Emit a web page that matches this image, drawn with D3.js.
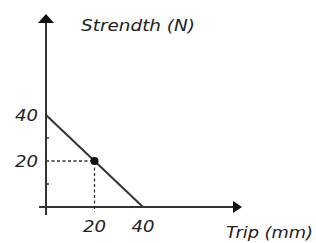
<!DOCTYPE html>
<html>
<head>
<meta charset="utf-8">
<script src="https://cdn.jsdelivr.net/npm/d3@7"></script>
<style>
body { margin: 0; background: #fff; }
text { font-family: "DejaVu Sans", sans-serif; font-style: italic; fill: #222; }
</style>
</head>
<body>
<div id="graphic"></div>
<script>
// line points (trip mm, strength N)
var lineTrip = [0, 40];
var lineStrength = [40, 0];
// highlighted point
var pointTrip = [20];
var pointStrength = [20];
var xTicks = [20, 40];
var yTicks = [20, 40];
var yMinor = [10, 30];

var W = 316, H = 243;
var x = d3.scaleLinear().domain([0, 40]).range([46, 143]);
var y = d3.scaleLinear().domain([0, 40]).range([207, 115]);

var svg = d3.select("#graphic").append("svg")
    .attr("width", W)
    .attr("height", H);

var ink = "#333";

// axes
svg.append("line")
    .attr("x1", x(0)).attr("x2", x(0))
    .attr("y1", y(0) + 8).attr("y2", 20)
    .attr("stroke", ink).attr("stroke-width", 2);
svg.append("line")
    .attr("x1", x(0) - 7).attr("x2", 236)
    .attr("y1", y(0)).attr("y2", y(0))
    .attr("stroke", ink).attr("stroke-width", 2);

// arrow heads
svg.append("path")
    .attr("d", "M" + x(0) + ",14 L" + (x(0) - 8) + ",23 L" + (x(0) + 8) + ",23 Z")
    .attr("fill", "#111");
svg.append("path")
    .attr("d", "M242," + y(0) + " L233," + (y(0) - 6) + " L233," + (y(0) + 6) + " Z")
    .attr("fill", "#111");

// minor ticks on y axis
svg.selectAll(null)
    .data(yMinor)
    .enter()
    .append("line")
    .attr("x1", x(0)).attr("x2", x(0) + 3)
    .attr("y1", function(d) { return y(d); })
    .attr("y2", function(d) { return y(d); })
    .attr("stroke", ink).attr("stroke-width", 1.5);

// dashed guides
svg.selectAll(null)
    .data(pointTrip)
    .enter()
    .append("path")
    .attr("d", function(d, i) {
        return "M" + x(0) + "," + y(pointStrength[i]) + " H" + x(d) + " V" + (y(0) + 5);
    })
    .attr("fill", "none")
    .attr("stroke", ink)
    .attr("stroke-width", 1.3)
    .attr("stroke-dasharray", "3,2.5");

// the line
var line = d3.line()
    .x(function(d) { return x(d[0]); })
    .y(function(d) { return y(d[1]); });
svg.append("path")
    .datum(lineTrip.map(function(t, i) { return [t, lineStrength[i]]; }))
    .attr("d", line)
    .attr("fill", "none")
    .attr("stroke", ink)
    .attr("stroke-width", 2);

// point
svg.selectAll(null)
    .data(pointTrip)
    .enter()
    .append("circle")
    .attr("cx", function(d) { return x(d); })
    .attr("cy", function(d, i) { return y(pointStrength[i]); })
    .attr("r", 4)
    .attr("fill", "#111");

// tick labels
svg.selectAll(null)
    .data(yTicks)
    .enter()
    .append("text")
    .attr("x", 38)
    .attr("y", function(d) { return y(d); })
    .attr("dy", "0.36em")
    .attr("text-anchor", "end")
    .attr("font-size", 16)
    .attr("textLength", 23)
    .attr("lengthAdjust", "spacingAndGlyphs")
    .text(function(d) { return d; });
svg.selectAll(null)
    .data(xTicks)
    .enter()
    .append("text")
    .attr("x", function(d) { return x(d); })
    .attr("y", 232)
    .attr("text-anchor", "middle")
    .attr("font-size", 16)
    .attr("textLength", 23)
    .attr("lengthAdjust", "spacingAndGlyphs")
    .text(function(d) { return d; });

// axis titles
svg.append("text")
    .attr("x", 81).attr("y", 31)
    .attr("font-size", 16)
    .attr("textLength", 114)
    .attr("lengthAdjust", "spacingAndGlyphs")
    .text("Strendth (N)");
svg.append("text")
    .attr("x", 226).attr("y", 238)
    .attr("font-size", 16)
    .attr("textLength", 87)
    .attr("lengthAdjust", "spacingAndGlyphs")
    .text("Trip (mm)");
</script>
</body>
</html>
